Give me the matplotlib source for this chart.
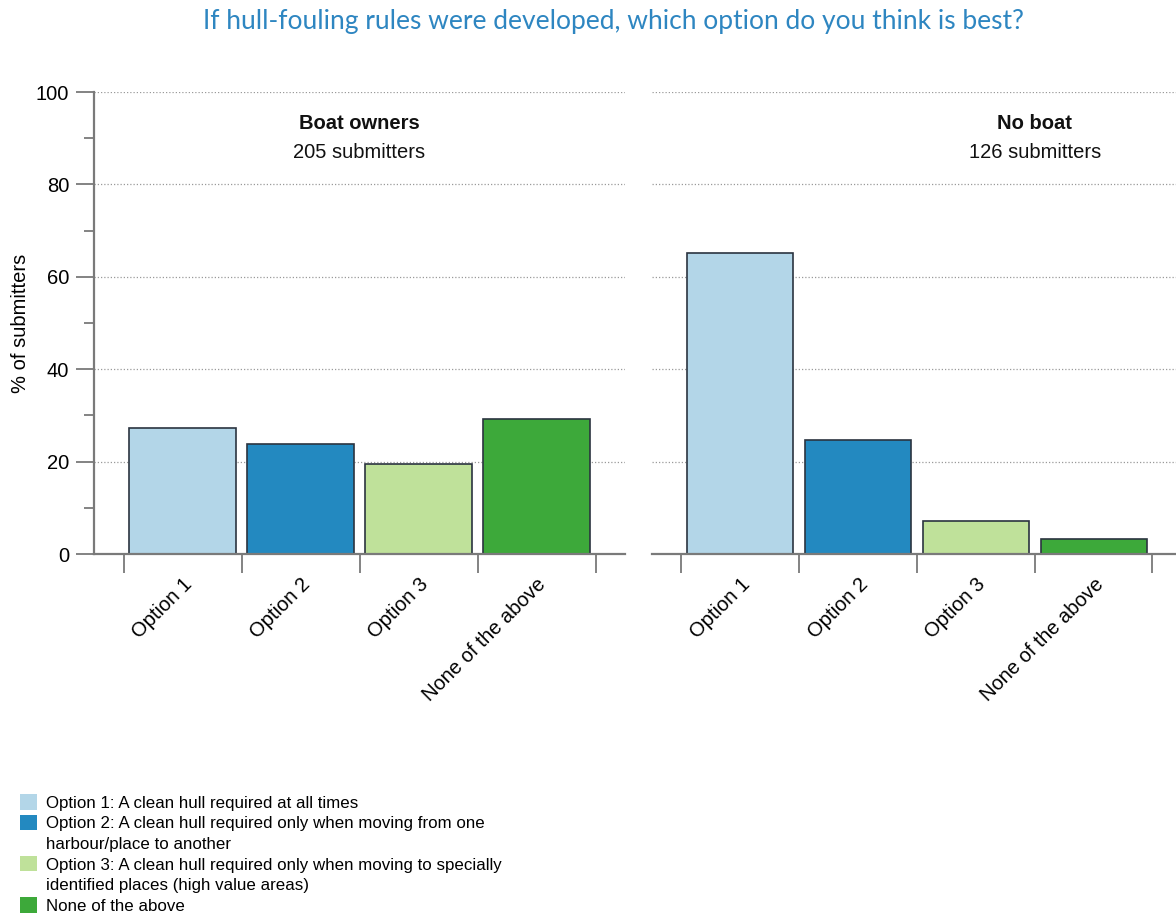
import matplotlib
matplotlib.use("Agg")
import matplotlib.pyplot as plt
from matplotlib.patches import Patch
from matplotlib.ticker import FixedLocator, MultipleLocator

# Survey responses (% of submitters in each group)
categories = ["Option 1", "Option 2", "Option 3", "None of the above"]
boat_owners = [27.3, 23.9, 19.5, 29.3]
no_boat = [65.1, 24.6, 7.1, 3.2]
groups = ["Boat owners", "No boat"]
group_sizes = ["205 submitters", "126 submitters"]
legend_labels = [
    "Option 1: A clean hull required at all times",
    "Option 2: A clean hull required only when moving from one\nharbour/place to another",
    "Option 3: A clean hull required only when moving to specially\nidentified places (high value areas)",
    "None of the above",
]
colors = ["#b3d6e8", "#2389c0", "#bfe19a", "#3da93a"]

plt.rcParams["font.family"] = ["Liberation Sans", "DejaVu Sans"]

W, H = 1176, 913
fig = plt.figure(figsize=(W / 100, H / 100), dpi=100)

axis_grey = "#7a7a7a"
bottom = (H - 554) / H
height = 462 / H
ax_left = fig.add_axes([94 / W, bottom, 531 / W, height])
ax_right = fig.add_axes([652 / W, bottom, 524 / W, height])

x = list(range(len(categories)))

for ax, vals, name, size, label_x, xmax in [
    (ax_left, boat_owners, groups[0], group_sizes[0], 1.5, 3.75),
    (ax_right, no_boat, groups[1], group_sizes[1], 2.5, 3.70),
]:
    ax.set_xlim(-0.75, xmax)
    ax.set_ylim(0, 100)
    for yv in range(20, 101, 20):
        ax.axhline(yv, color="#9a9a9a", lw=0.9, ls=(0, (1, 1.6)), zorder=0)
    ax.bar(x, vals, width=0.9, color=colors, edgecolor="#2b3440",
           linewidth=1.2, zorder=2)

    for s in ["top", "right"]:
        ax.spines[s].set_visible(False)
    ax.spines["bottom"].set_color(axis_grey)
    ax.spines["bottom"].set_linewidth(1.6)
    ax.spines["bottom"].set_zorder(3)

    # boundary ticks between categories
    ax.xaxis.set_major_locator(FixedLocator([i - 0.5 for i in range(len(categories) + 1)]))
    ax.xaxis.set_minor_locator(FixedLocator(x))
    ax.tick_params(axis="x", which="major", length=14, width=1.3,
                   color=axis_grey, labelbottom=False)
    ax.tick_params(axis="x", which="minor", length=0, pad=15, labelsize=14.5)
    ax.set_xticks(x, categories, minor=True)
    for lbl in ax.get_xticklabels(minor=True):
        lbl.set_rotation(45)
        lbl.set_ha("right")
        lbl.set_va("top")
        lbl.set_rotation_mode("anchor")

    ax.text(label_x, 93.2, name, ha="center", va="center",
            fontsize=14.5, fontweight="bold", color="#111111")
    ax.text(label_x, 86.8, size, ha="center", va="center",
            fontsize=14.5, color="#111111")

# left panel y axis
ax_left.spines["left"].set_color(axis_grey)
ax_left.spines["left"].set_linewidth(1.6)
ax_left.yaxis.set_major_locator(MultipleLocator(20))
ax_left.yaxis.set_minor_locator(FixedLocator([10, 30, 50, 70, 90]))
ax_left.tick_params(axis="y", which="major", length=13, width=1.3,
                    color=axis_grey, labelsize=14.5, pad=5)
ax_left.tick_params(axis="y", which="minor", length=7, width=1.3, color=axis_grey)
ax_left.set_ylabel("% of submitters", fontsize=14.5, labelpad=4)

# right panel: no y axis
ax_right.spines["left"].set_visible(False)
ax_right.tick_params(axis="y", which="both", left=False, labelleft=False)

fig.suptitle("If hull-fouling rules were developed, which option do you think is best?",
             x=613 / W, y=1 - 21 / H, va="center", fontsize=19,
             color="#2e86c1", family=["Lato", "DejaVu Sans"])

# Legend: one row per text line, colour square on the first line of each entry
handles, rows = [], []
for color, label in zip(colors, legend_labels):
    for i, line in enumerate(label.split("\n")):
        handles.append(Patch(facecolor=color if i == 0 else "none", edgecolor="none"))
        rows.append(line)
leg = fig.legend(handles, rows, loc="lower left",
                 bbox_to_anchor=(10 / W, -11 / H), frameon=False, fontsize=12.2,
                 handlelength=1.0, handleheight=1.0, handletextpad=0.5,
                 labelspacing=0.25, borderaxespad=0.2)

fig.savefig("out.png", dpi=100)
